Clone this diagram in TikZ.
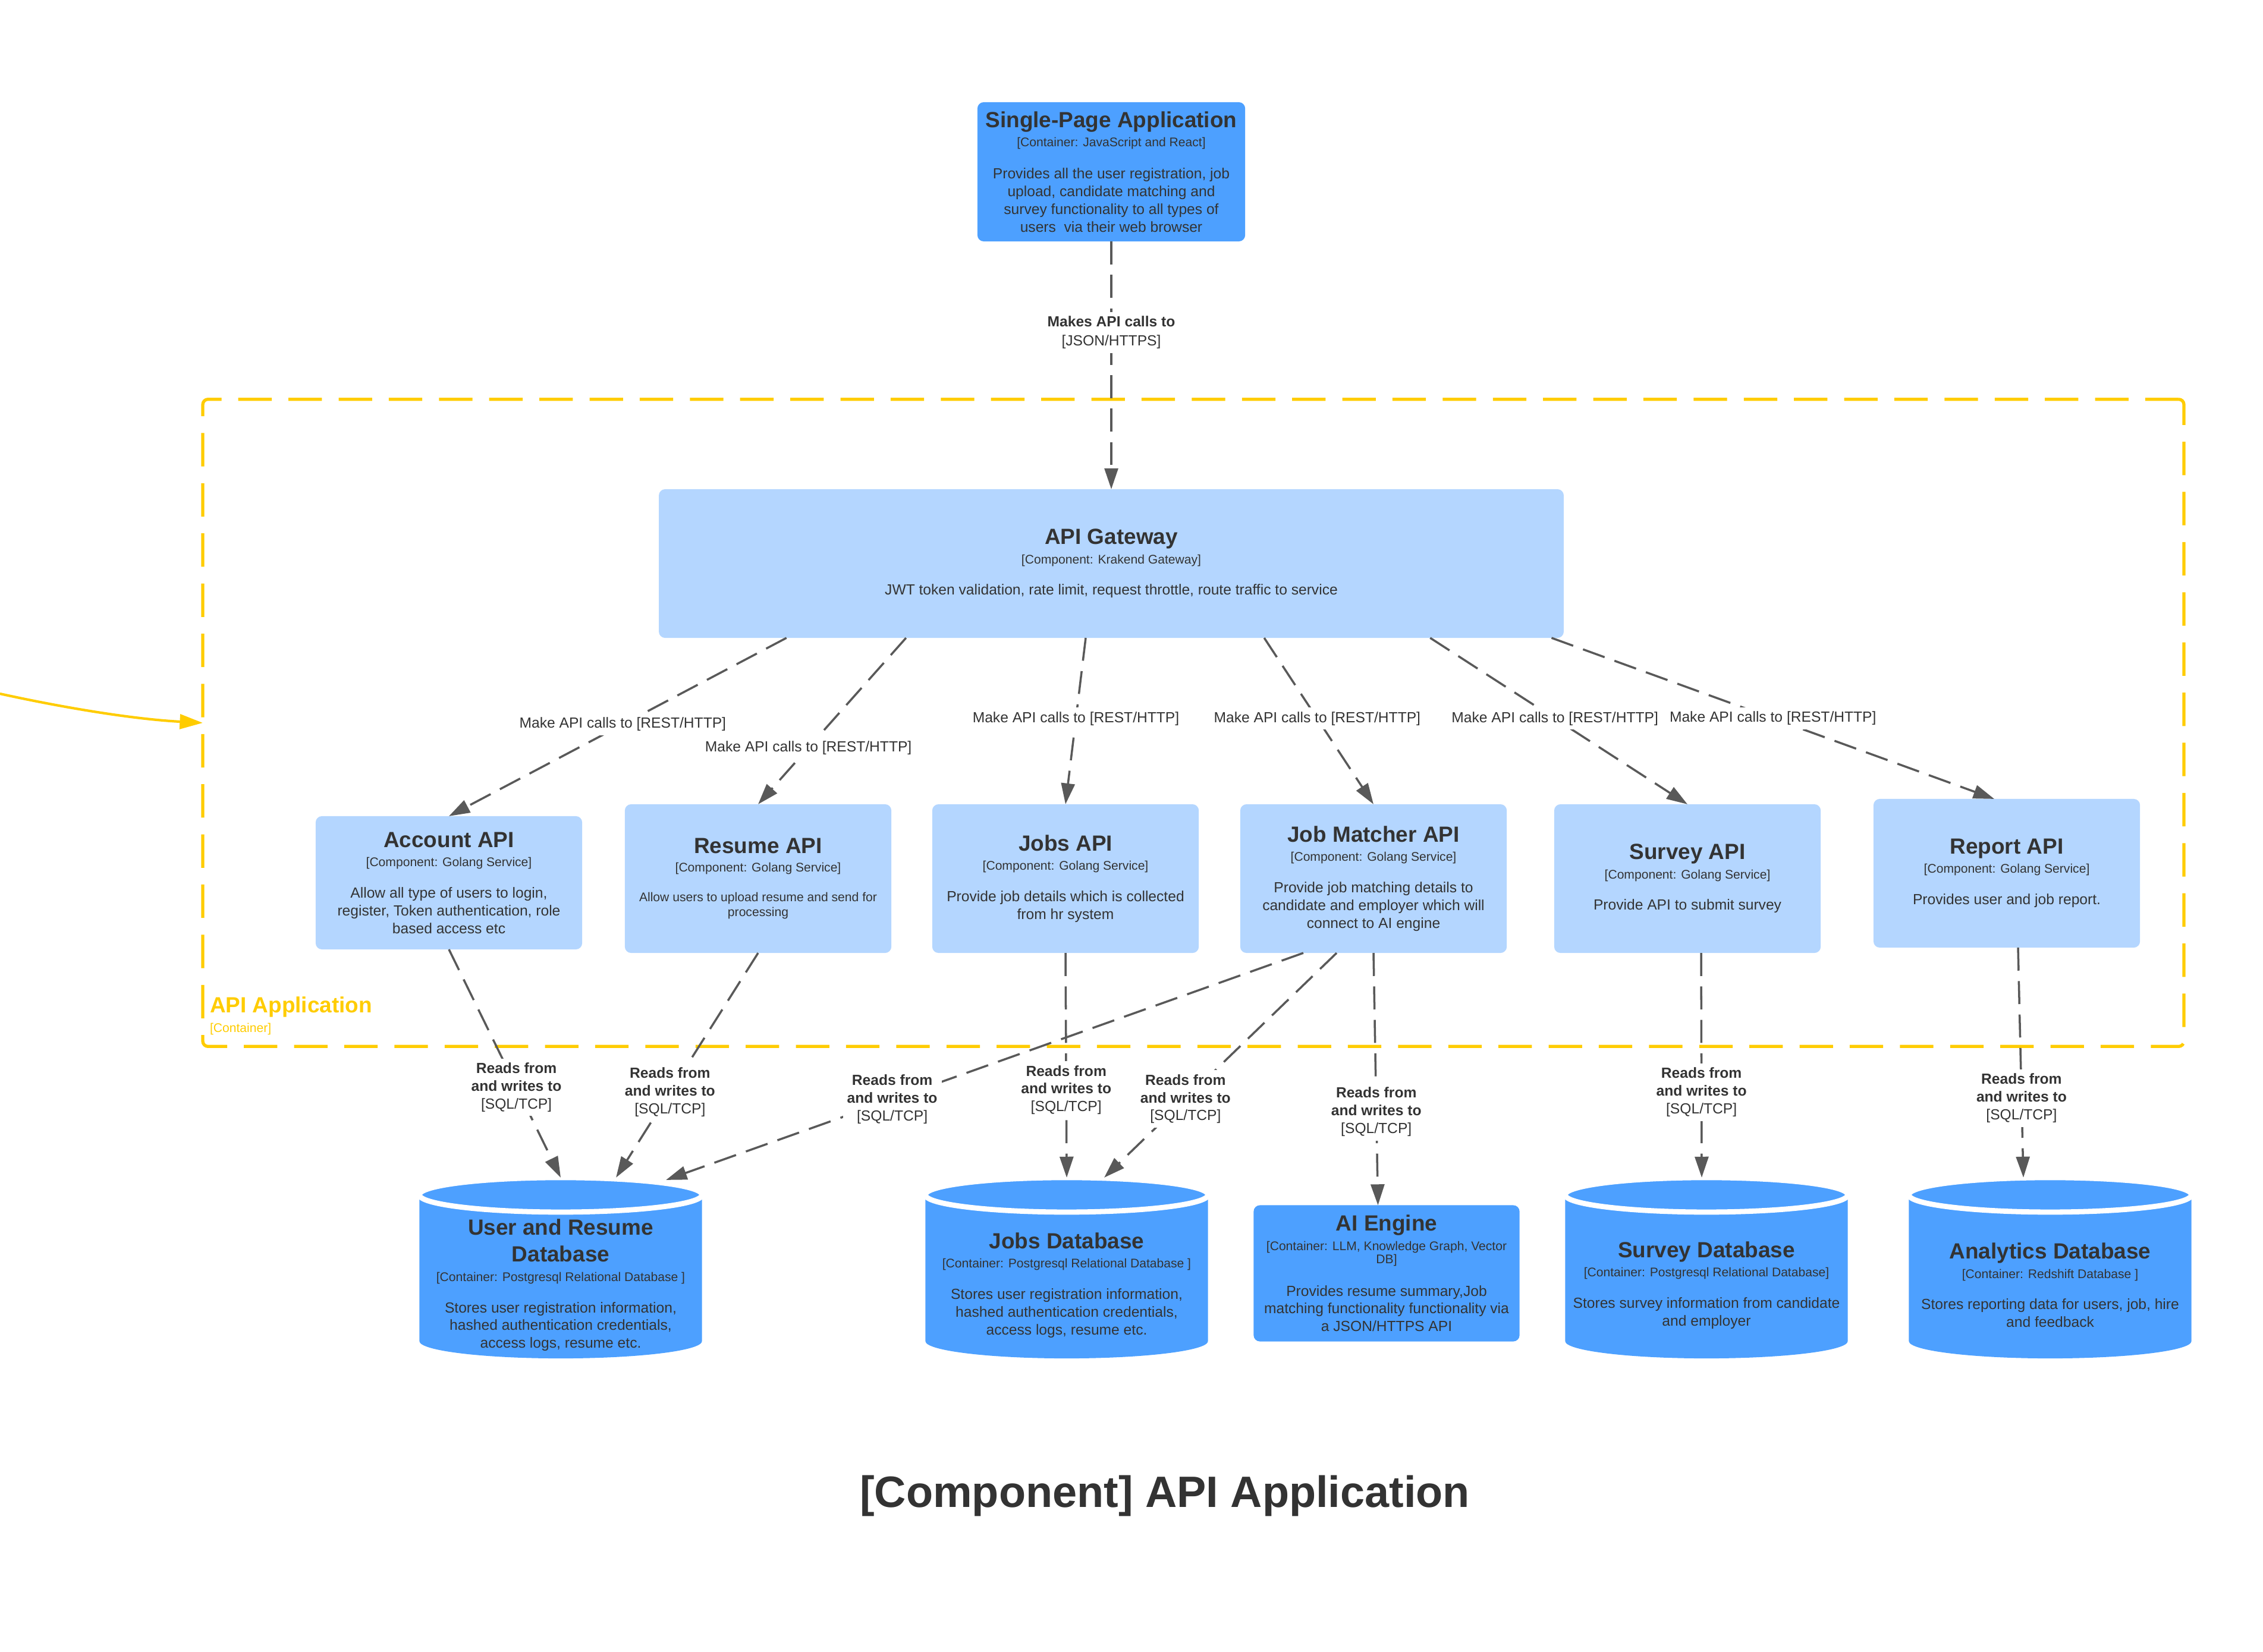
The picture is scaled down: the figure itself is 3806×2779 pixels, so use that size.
\documentclass[tikz,border=0pt]{standalone}
\usepackage{fontspec}
\setmainfont{Liberation Sans}
\usetikzlibrary{arrows.meta}
\definecolor{darkblue}{RGB}{77,160,255}
\definecolor{lightblue}{RGB}{180,214,255}
\definecolor{textgray}{RGB}{51,51,51}
\definecolor{arrowgray}{RGB}{89,89,89}
\definecolor{bndyellow}{RGB}{255,204,0}
\newcommand{\ctitle}[1]{{\fontsize{10.5}{12}\selectfont\bfseries #1}}
\newcommand{\ctech}[1]{{\fontsize{6}{7}\selectfont #1}}
\newcommand{\sqlrw}{\textbf{Reads from}\\\textbf{and writes to}\\{[SQL/TCP]}}
\newcommand{\restcall}{Make API calls to [REST/HTTP]}
\newcommand{\dbcyl}[1]{%
  \fill[darkblue] ([yshift=-0.29cm]#1.north west) -- ([yshift=0.29cm]#1.south west)
    arc[start angle=180, end angle=360, x radius=2.375cm, y radius=0.29cm]
    -- ([yshift=-0.29cm]#1.north east) -- cycle;
  \filldraw[darkblue, draw=white, line width=2.5pt] ([yshift=-0.29cm]#1.north)
    ellipse[x radius=2.375cm, y radius=0.29cm];}
\begin{document}
\begin{tikzpicture}[x=0.01cm, y=-0.01cm,
      every node/.style={text=textgray, inner sep=0pt, outer sep=0pt, align=center,
        font=\fontsize{7}{8.5}\selectfont},
      container/.style={fill=darkblue, rounded corners=3pt, minimum width=4.5cm},
      component/.style={fill=lightblue, rounded corners=3pt, minimum width=4.48cm, minimum height=2.5cm},
      database/.style={minimum width=4.75cm, minimum height=3.04cm},
      boundary/.style={draw=bndyellow, line width=1.5pt, dash pattern=on 16pt off 8pt,
        rounded corners=2.5pt, minimum width=33.3cm, minimum height=10.88cm},
      flow/.style={draw=arrowgray, line width=1pt, dash pattern=on 11pt off 5pt,
        -{Triangle[length=10pt, width=6.5pt]}},
      flowlabel/.style={fill=white, inner sep=2pt},
      extflow/.style={draw=bndyellow, line width=1.2pt, -{Triangle[length=11pt, width=7pt]}}
      ]
      \useasboundingbox (0,0) rectangle (3806,2779);

      \node[boundary] (bnd) at (2007,1216) {};
      \node[anchor=west, text=bndyellow, font=\fontsize{10.5}{12}\selectfont\bfseries] (bndname) at (353,1694) {API Application};
      \node[anchor=west, text=bndyellow, font=\fontsize{6}{7}\selectfont] (bndtype) at (353,1731) {[Container]};
      \coordinate (extsrc) at (0,1167);
      \draw[extflow] (extsrc) .. controls (114,1192) and (228,1210) .. (bnd.west);

      \node[container, minimum height=2.34cm] (spa) at (1869,289) {\ctitle{Single-Page Application}\\[0.7pt]
        \ctech{[Container: JavaScript and React]}\\[6.9pt]
        Provides all the user registration, job\\upload, candidate matching and\\
        survey functionality to all types of\\users\ \ via their web browser};
      \node[component, minimum width=15.21cm] (gw) at (1869,948) {\ctitle{API Gateway}\\[0.7pt]
        \ctech{[Component: Krakend Gateway]}\\[6.5pt]
        JWT token validation, rate limit, request throttle, route traffic to service};

      \node[component, minimum height=2.24cm] (acc) at (755,1485) {\ctitle{Account API}\\[0.7pt]
        \ctech{[Component: Golang Service]}\\[6.5pt]
        Allow all type of users to login,\\register, Token authentication, role\\based access etc};
      \node[component, font=\fontsize{6}{7.1}\selectfont] (res) at (1275,1478) {\ctitle{Resume API}\\[1.8pt]
        \ctech{[Component: Golang Service]}\\[7.1pt]
        Allow users to upload resume and send for\\processing};
      \node[component] (jobs) at (1792,1478) {\ctitle{Jobs API}\\[0.7pt]
        \ctech{[Component: Golang Service]}\\[6.5pt]
        Provide job details which is collected\\from hr system};
      \node[component] (jm) at (2310,1478) {\ctitle{Job Matcher API}\\[0.7pt]
        \ctech{[Component: Golang Service]}\\[6.5pt]
        Provide job matching details to\\candidate and employer which will\\connect to AI engine};
      \node[component] (sv) at (2838,1478) {\ctitle{Survey API}\\[0.7pt]
        \ctech{[Component: Golang Service]}\\[6.5pt]
        Provide API to submit survey};
      \node[component] (rep) at (3375,1469) {\ctitle{Report API}\\[0.7pt]
        \ctech{[Component: Golang Service]}\\[6.5pt]
        Provides user and job report.};

      \node[database] (udb) at (943,2133) {};
      \dbcyl{udb}
      \node (udbt) at ([yshift=-0.29cm]udb.center) {\ctitle{User and Resume}\\[4.3pt]\ctitle{Database}\\[0.7pt]
        \ctech{[Container: Postgresql Relational Database ]}\\[6.5pt]
        Stores user registration information,\\hashed authentication credentials,\\access logs, resume etc.};
      \node[database] (jdb) at (1794,2133) {};
      \dbcyl{jdb}
      \node (jdbt) at ([yshift=-0.29cm]jdb.center) {\ctitle{Jobs Database}\\[0.7pt]
        \ctech{[Container: Postgresql Relational Database ]}\\[6.5pt]
        Stores user registration information,\\hashed authentication credentials,\\access logs, resume etc.};
      \node[container, minimum width=4.47cm, minimum height=2.29cm] (ai) at (2332,2142) {\ctitle{AI Engine}\\[0.7pt]
        \ctech{[Container: LLM, Knowledge Graph, Vector}\\[-2pt]\ctech{DB]}\\[6.9pt]
        Provides resume summary,Job\\matching functionality functionality via\\a JSON/HTTPS API};
      \node[database] (sdb) at (2870,2133) {};
      \dbcyl{sdb}
      \node (sdbt) at ([yshift=-0.29cm]sdb.center) {\ctitle{Survey Database}\\[0.7pt]
        \ctech{[Container: Postgresql Relational Database]}\\[6.5pt]
        Stores survey information from candidate\\and employer};
      \node[database] (adb) at (3448,2133) {};
      \dbcyl{adb}
      \node (adbt) at ([yshift=-0.29cm]adb.center) {\ctitle{Analytics Database}\\[0.7pt]
        \ctech{[Container: Redshift Database ]}\\[6.5pt]
        Stores reporting data for users, job, hire\\and feedback};

      \draw[flow] (spa.south) -- node[flowlabel, pos=.367] {\textbf{Makes API calls to}\\[0.6pt]{[JSON/HTTPS]}} (gw.north);
      \draw[flow] ([xshift=-5.46cm]gw.south) -- node[flowlabel, pos=.485] {\restcall} (acc.north);
      \draw[flow] ([xshift=-3.45cm]gw.south) -- node[flowlabel, pos=.66] {\restcall} (res.north);
      \draw[flow] ([xshift=-0.43cm]gw.south) -- node[flowlabel, pos=.485] {\restcall} (jobs.north);
      \draw[flow] ([xshift=2.57cm]gw.south) -- node[flowlabel, pos=.485] {\restcall} (jm.north);
      \draw[flow] ([xshift=5.36cm]gw.south) -- node[flowlabel, pos=.485] {\restcall} (sv.north);
      \draw[flow] ([xshift=7.4cm]gw.south) -- node[flowlabel, pos=.5] {\restcall} ([xshift=-0.21cm]rep.north);

      \draw[flow] (acc.south) -- node[flowlabel, pos=.604] {\sqlrw} (udb.north);
      \draw[flow] (res.south) -- node[flowlabel, pos=.62] {\sqlrw} ([xshift=0.93cm]udb.north);
      \draw[flow] ([xshift=-1.18cm]jm.south) -- node[flowlabel, pos=.645] {\sqlrw} ([xshift=1.77cm, yshift=-0.04cm]udb.north);
      \draw[flow] (jobs.south) -- node[flowlabel, pos=.61] {\sqlrw} (jdb.north);
      \draw[flow] ([xshift=-0.62cm]jm.south) -- node[flowlabel, pos=.65] {\sqlrw} ([xshift=0.63cm]jdb.north);
      \draw[flow] (jm.south) -- node[flowlabel, pos=.63] {\sqlrw} ([xshift=-0.145cm]ai.north);
      \draw[flow] ([xshift=0.23cm]sv.south) -- node[flowlabel, pos=.62] {\sqlrw} ([xshift=-0.08cm]sdb.north);
      \draw[flow] ([xshift=0.19cm]rep.south) -- node[flowlabel, pos=.655] {\sqlrw} ([xshift=-0.45cm]adb.north);

      \node[anchor=base, font=\fontsize{21}{25}\selectfont\bfseries] (title) at (1959,2535) {[Component] API Application};
    \end{tikzpicture}
\end{document}
